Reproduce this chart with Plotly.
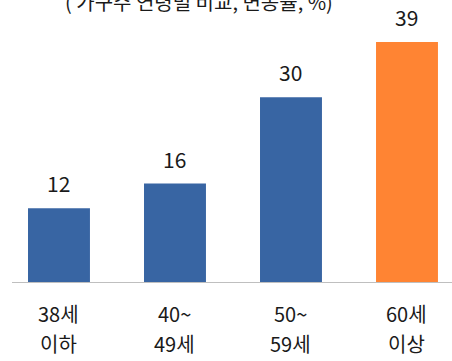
import plotly.graph_objects as go

categories = ["38세 이하", "40~ 49세", "50~ 59세", "60세 이상"]
label_line1 = ["38세", "40~", "50~", "60세"]
label_line2 = ["이하", "49세", "59세", "이상"]
values = [12, 16, 30, 39]
colors = ["#3865A3", "#3865A3", "#3865A3", "#FF8433"]
title_text = "( 가구주 연령별 비교, 변동률, %)"

FONT = "Noto Sans CJK KR"
xs = list(range(len(categories)))

fig = go.Figure()
fig.add_trace(go.Bar(x=xs, y=values, marker=dict(color=colors, line=dict(width=0)),
                     width=0.534, hoverinfo="skip"))

ann = []
for x, v in zip(xs, values):
    ann.append(dict(x=x, y=v, xref="x", yref="y", text=str(v), showarrow=False,
                    yanchor="middle", yshift=25, font=dict(family=FONT, size=21, color="#1a1a1a")))
for x, a, b in zip(xs, label_line1, label_line2):
    ann.append(dict(x=x, y=0, xref="x", yref="paper", text=a, showarrow=False,
                    yanchor="middle", yshift=-31, font=dict(family=FONT, size=20, color="#1a1a1a")))
    ann.append(dict(x=x, y=0, xref="x", yref="paper", text=b, showarrow=False,
                    yanchor="middle", yshift=-61, font=dict(family=FONT, size=20, color="#1a1a1a")))
ann.append(dict(x=0.425, y=1, xref="paper", yref="paper", text=title_text, showarrow=False,
                yanchor="middle", yshift=4, font=dict(family=FONT, size=20, color="#1a1a1a")))

fig.update_layout(
    width=452, height=361,
    margin=dict(l=12, r=0, t=5, b=79),
    paper_bgcolor="white", plot_bgcolor="white",
    showlegend=False,
    annotations=ann,
    xaxis=dict(range=[-0.405, 3.388], showline=True, linecolor="#BFBFBF", linewidth=1,
               showticklabels=False, ticks="", showgrid=False, zeroline=False, fixedrange=True),
    yaxis=dict(range=[0, 45], visible=False, showgrid=False, zeroline=False, fixedrange=True),
)
fig.write_html("out.html")
